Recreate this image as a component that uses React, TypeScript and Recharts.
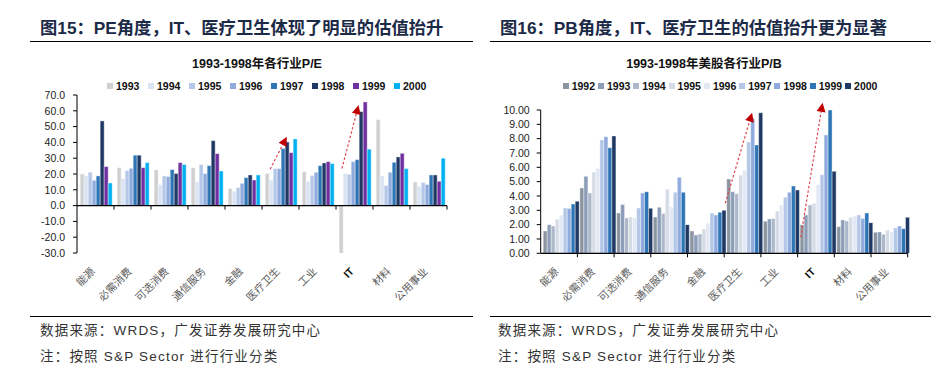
import React from 'react'
import { BarChart, Bar, XAxis, YAxis, ReferenceLine, Legend } from 'recharts'

const categories = ['能源', '必需消费', '可选消费', '通信服务', '金融', '医疗卫生', '工业', 'IT', '材料', '公用事业']

// PE, 1993-2000
const peYears = ['1993', '1994', '1995', '1996', '1997', '1998', '1999', '2000']
const pe1993 = [20.0, 24.0, 22.6, 24.0, 10.8, 20.3, 21.5, -30.4, 54.4, 15.0]
const pe1994 = [18.8, 17.1, 13.3, 15.0, 9.1, 16.2, 15.4, 20.3, 18.8, 12.2]
const pe1995 = [21.1, 22.2, 18.8, 26.0, 11.4, 23.4, 19.0, 19.8, 12.7, 14.6]
const pe1996 = [16.0, 23.6, 18.4, 20.3, 14.1, 23.4, 21.1, 27.8, 21.1, 13.3]
const pe1997 = [18.8, 31.9, 22.8, 25.3, 17.7, 36.1, 25.3, 29.1, 27.4, 19.4]
const pe1998 = [53.6, 31.9, 20.3, 41.1, 19.4, 40.3, 27.0, 59.5, 30.8, 19.4]
const pe1999 = [24.7, 24.0, 27.2, 32.9, 16.2, 33.5, 27.8, 65.6, 33.1, 15.4]
const pe2000 = [14.3, 27.2, 26.0, 21.9, 19.4, 42.2, 26.6, 35.7, 23.4, 30.0]
const peSeries = [pe1993, pe1994, pe1995, pe1996, pe1997, pe1998, pe1999, pe2000]
const peColors = ['#d0d0d0', '#dae3f3', '#b4c7e7', '#8faadc', '#2e75b6', '#203864', '#7030a0', '#00b0f0']
const peTicks = [-30, -20, -10, 0, 10, 20, 30, 40, 50, 60, 70]

// PB, 1992-2000
const pbYears = ['1992', '1993', '1994', '1995', '1996', '1997', '1998', '1999', '2000']
const pb1992 = [1.56, 4.56, 2.81, 2.53, 1.56, 5.19, 2.23, 2.0, 1.86, 1.47]
const pb1993 = [2.0, 5.37, 3.4, 3.21, 1.28, 4.3, 2.4, 2.67, 2.33, 1.49]
const pb1994 = [1.91, 4.21, 2.47, 2.77, 1.35, 4.16, 2.42, 3.37, 2.26, 1.33]
const pb1995 = [2.37, 5.67, 2.53, 4.47, 1.7, 5.44, 2.95, 3.49, 2.51, 1.6]
const pb1996 = [2.65, 5.93, 2.47, 3.23, 2.09, 5.79, 3.37, 4.79, 2.6, 1.49]
const pb1997 = [3.16, 7.91, 3.16, 4.26, 2.81, 7.77, 3.91, 5.49, 2.67, 1.77]
const pb1998 = [3.12, 8.14, 4.21, 5.3, 2.67, 9.42, 4.26, 8.26, 2.42, 1.91]
const pb1999 = [3.44, 7.37, 4.3, 4.26, 2.86, 7.56, 4.7, 10.0, 2.81, 1.72]
const pb2000 = [3.63, 8.19, 3.14, 2.0, 3.0, 9.81, 4.42, 5.72, 2.14, 2.51]
const pbSeries = [pb1992, pb1993, pb1994, pb1995, pb1996, pb1997, pb1998, pb1999, pb2000]
const pbColors = ['#8b95a1', '#8c9db8', '#adb9ca', '#d6dce5', '#e2e9f5', '#b4c7e7', '#8faadc', '#2e75b6', '#203864']
const pbTicks = [0, 1, 2, 3, 4, 5, 6, 7, 8, 9, 10]

// red dashed arrows: category, [position inside band 0..1, value] start -> end
const peArrows = [
  { cat: '医疗卫生', from: [0.22, 23.0], to: [0.67, 43.5] },
  { cat: 'IT', from: [0.16, 23.4], to: [0.61, 63.5] },
]
const pbArrows = [
  { cat: '医疗卫生', from: [0.03, 3.49], to: [0.76, 9.81] },
  { cat: 'IT', from: [0.085, 1.12], to: [0.68, 10.5] },
]

const LATIN = '"Liberation Sans", Arial, "Noto Sans CJK SC", sans-serif'
const CJK = '"Noto Sans CJK SC", sans-serif'
const NAVY = '#1b2a47'
const Y_WIDTH = 50

const toRows = (years: string[], series: number[][]) =>
  categories.map((name, i) => {
    const row: any = { name }
    years.forEach((y, k) => (row[y] = series[k][i]))
    return row
  })

function CategoryTick({ x, y, payload }: any) {
  const latin = /^[A-Za-z]+$/.test(payload.value)
  return (
    <g transform={`translate(${x},${y + 19})`}>
      <text
        textAnchor="end"
        transform="rotate(-45)"
        fontSize={10.5}
        fill={latin ? '#111' : '#595959'}
        fontWeight={latin ? 700 : 400}
        fontFamily={latin ? LATIN : CJK}
      >
        {payload.value}
      </text>
    </g>
  )
}

function ZeroLine(props: any) {
  const { x1, x2, y1 } = props
  const step = (x2 - x1) / categories.length
  return (
    <g>
      <line x1={x1} x2={x2} y1={y1} y2={y1} stroke="#000" strokeWidth={1.2} />
      {categories.map((_, i) => (
        <line key={i} x1={x1 + (i + 1) * step} x2={x1 + (i + 1) * step} y1={y1} y2={y1 + 4} stroke="#000" />
      ))}
    </g>
  )
}

// segment endpoints arrive at the band centre; shift them inside the band
const makeArrow = (band: number, f0: number, f1: number) => (props: any) => {
  const x1 = props.x1 + (f0 - 0.5) * band
  const x2 = props.x2 + (f1 - 0.5) * band
  const { y1, y2 } = props
  const ang = Math.atan2(y2 - y1, x2 - x1)
  const bx = x2 - 9 * Math.cos(ang)
  const by = y2 - 9 * Math.sin(ang)
  const px = -Math.sin(ang) * 4.5
  const py = Math.cos(ang) * 4.5
  return (
    <g>
      <line x1={x1} y1={y1} x2={bx} y2={by} stroke="#e0474c" strokeWidth={1.2} strokeDasharray="2.5 2" />
      <polygon points={`${x2},${y2} ${bx + px},${by + py} ${bx - px},${by - py}`} fill="#c00000" />
    </g>
  )
}

function LegendRow({ years, colors, step }: any) {
  return (
    <div style={{ display: 'flex', fontFamily: LATIN, fontSize: 10.5, fontWeight: 700, color: '#111', lineHeight: '12px' }}>
      {years.map((y: string, i: number) => (
        <div key={y} style={{ display: 'flex', alignItems: 'center', width: step }}>
          <span style={{ display: 'inline-block', width: 6, height: 6, background: colors[i], marginRight: 3 }} />
          <span>{y}</span>
        </div>
      ))}
    </div>
  )
}

function ValuationChart({ years, series, colors, ticks, digits, arrows, width, margin, xHeight, tickMargin, gap, legendLeft, legendStep }: any) {
  const rows = toRows(years, series)
  const band = (width - margin.left - margin.right - Y_WIDTH) / categories.length
  return (
    <BarChart width={width} height={315} data={rows} margin={margin} barCategoryGap={gap} barGap={0}>
      <XAxis dataKey="name" height={xHeight} axisLine={false} tickLine={false} tickSize={0} tickMargin={0} interval={0} tick={<CategoryTick />} />
      <YAxis
        width={Y_WIDTH}
        domain={[ticks[0], ticks[ticks.length - 1]]}
        ticks={ticks}
        interval={0}
        tickSize={4}
        tickMargin={tickMargin}
        axisLine={{ stroke: '#000' }}
        tickLine={{ stroke: '#000' }}
        tick={{ fontSize: 10.5, fill: '#222', fontFamily: LATIN }}
        tickFormatter={(v: number) => v.toFixed(digits)}
        allowDataOverflow
      />
      <Legend
        verticalAlign="middle"
        align="center"
        layout="horizontal"
        wrapperStyle={{ top: 80, left: legendLeft, width: 'auto', height: 12 }}
        content={() => <LegendRow years={years} colors={colors} step={legendStep} />}
      />
      {years.map((y: string, i: number) => (
        <Bar key={y} dataKey={y} fill={colors[i]} stroke="#fff" strokeWidth={0.4} isAnimationActive={false} />
      ))}
      <ReferenceLine y={0} shape={ZeroLine} />
      {arrows.map((a: any, i: number) => (
        <ReferenceLine
          key={i}
          ifOverflow="visible"
          segment={[{ x: a.cat, y: a.from[1] }, { x: a.cat, y: a.to[1] }]}
          shape={makeArrow(band, a.from[0], a.to[0])}
        />
      ))}
    </BarChart>
  )
}

const rule = (left: number, top: number, w: number) => (
  <div style={{ position: 'absolute', left, top, width: w, height: 1.5, background: '#000' }} />
)

const textAt = (left: number, top: number, style: any, content: string) => (
  <div style={{ position: 'absolute', left, top, whiteSpace: 'nowrap', ...style }}>{content}</div>
)

export default function App() {
  const titleStyle = { fontFamily: LATIN, fontWeight: 700, fontSize: 17.3, color: NAVY, lineHeight: '18px' }
  const subStyle = { fontFamily: LATIN, fontWeight: 700, fontSize: 12.5, color: '#111', lineHeight: '14px', textAlign: 'center', width: 240 }
  const srcStyle = { fontFamily: LATIN, fontSize: 13.5, color: '#333', lineHeight: '16px', letterSpacing: 1.2 }
  return (
    <div style={{ position: 'absolute', left: 0, top: 0, width: 949, height: 387, background: '#fff', overflow: 'hidden' }}>
      {textAt(40, 19, titleStyle, '图15：PE角度，IT、医疗卫生体现了明显的估值抬升')}
      {textAt(500, 19, titleStyle, '图16：PB角度，IT、医疗卫生的估值抬升更为显著')}
      {rule(30, 40.5, 443)}
      {rule(490, 40.5, 441)}
      {textAt(137, 57, subStyle, '1993-1998年各行业P/E')}
      {textAt(584, 57, subStyle, '1993-1998年美股各行业P/B')}

      <div style={{ position: 'absolute', left: 0, top: 0 }}>
        <ValuationChart
          years={peYears}
          series={peSeries}
          colors={peColors}
          ticks={peTicks}
          digits={1}
          arrows={peArrows}
          width={475}
          margin={{ top: 95, right: 28, bottom: 0, left: 27 }}
          xHeight={62}
          tickMargin={8}
          gap="8.6%"
          legendLeft={107}
          legendStep={41}
        />
      </div>
      <div style={{ position: 'absolute', left: 475, top: 0 }}>
        <ValuationChart
          years={pbYears}
          series={pbSeries}
          colors={pbColors}
          ticks={pbTicks}
          digits={2}
          arrows={pbArrows}
          width={474}
          margin={{ top: 110, right: 41.3, bottom: 0, left: 15.7 }}
          xHeight={61.7}
          tickMargin={7}
          gap="6.8%"
          legendLeft={87.7}
          legendStep={35.3}
        />
      </div>

      {rule(30, 315.5, 443)}
      {rule(490, 315.5, 441)}
      {textAt(40, 323, srcStyle, '数据来源：WRDS，广发证券发展研究中心')}
      {textAt(40, 349, srcStyle, '注：按照 S&P Sector 进行行业分类')}
      {textAt(498, 323, srcStyle, '数据来源：WRDS，广发证券发展研究中心')}
      {textAt(498, 349, srcStyle, '注：按照 S&P Sector 进行行业分类')}
    </div>
  )
}
